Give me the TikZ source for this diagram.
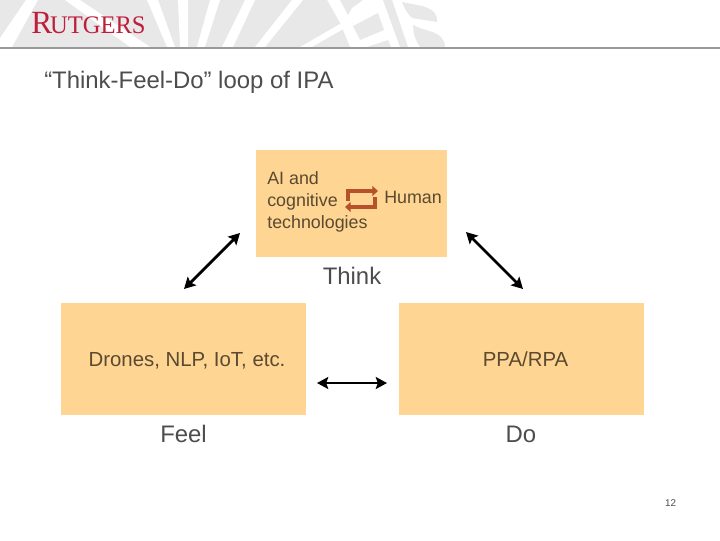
\documentclass[tikz,border=0pt]{standalone}
\usepackage{fontspec}
\setmainfont{Liberation Sans}
\newfontfamily\logofont{Liberation Serif}
\usetikzlibrary{arrows.meta, positioning}
\definecolor{boxfill}{HTML}{FFD593}
\definecolor{textgray}{HTML}{4D4D4D}
\definecolor{boxtext}{HTML}{5A4A30}
\definecolor{bannergray}{HTML}{E8E8E8}
\definecolor{logored}{HTML}{BE1E3C}
\definecolor{looprust}{HTML}{B5522A}
\definecolor{rulegray}{HTML}{999999}
\tikzset{
  panel/.style={fill=boxfill, draw=none, minimum width=245*0.711pt, minimum height=112*0.711pt, inner sep=0pt},
  caption/.style={text=textgray, font=\fontsize{17}{19}\selectfont, inner sep=0pt},
  boxlabel/.style={text=boxtext, font=\fontsize{12.7}{15.6}\selectfont, inner sep=0pt},
  widelabel/.style={text=boxtext, font=\fontsize{14.5}{17}\selectfont, inner sep=0pt},
  twohead/.style={{Stealth[length=8pt,width=8.5pt,inset=1.5pt]}-{Stealth[length=8pt,width=8.5pt,inset=1.5pt]}, line width=2pt, black},
  loopbar/.style={looprust, line width=3pt, -{Stealth[length=4pt,width=7pt,inset=0pt]}}
}
\begin{document}
\begin{tikzpicture}[x=0.025cm, y=-0.025cm]
  \useasboundingbox (0,0) rectangle (720,540);
  \fill[white] (0,0) rectangle (720,540);

  % banner seal
  \fill[bannergray] (0,0) -- (327,0) -- (340,23) -- (350,47) -- (0,47) -- cycle;
  \fill[white] (26,0) -- (38,0) -- (12,47) -- (0,47) -- (0,38) -- cycle; % ring
  \fill[white] (65,0) -- (80,0) -- (150,47) -- (130,47) -- cycle; % rays
  \fill[white] (147,0) -- (158,0) -- (175,47) -- (167,47) -- cycle;
  \fill[white] (178,0) -- (188,0) -- (188,47) -- (180,47) -- cycle;
  \fill[white] (210,0) -- (220,0) -- (205,47) -- (197,47) -- cycle;
  \fill[white] (245,0) -- (255,0) -- (233,47) -- (222,47) -- cycle;
  \fill[white] (292,0) -- (303,0) -- (265,47) -- (255,47) -- cycle;
  \fill[white] (340,24) -- (345,28) -- (312,47) -- (300,47) -- cycle;
  \fill[bannergray] (340,0) -- (363,0) -- (352,8) -- (348,15) -- cycle; % ring letters
  \fill[bannergray] (353,26) -- (378,13) -- (384,30) -- (360,40) -- cycle;
  \fill[bannergray] (367,47) -- (388,40) -- (391,47) -- cycle;
  \fill[bannergray] (383,0) -- (392,0) -- (408,47) -- (400,47) -- cycle;
  \fill[bannergray] (402,2) .. controls (420,6) and (438,6) .. (437,22) -- (412,18) .. controls (408,14) and (405,10) .. (402,2) -- cycle;
  \fill[bannergray] (413,25) .. controls (425,32) and (444,30) .. (445,47) -- (420,47) .. controls (415,40) and (413,32) .. (413,25) -- cycle;

  % banner rule
  \draw[rulegray, line width=0.8pt] (0,48) -- (720,48);

  % logo
  \node[anchor=base west, logored, font=\logofont\fontsize{23}{23}\selectfont, inner sep=0pt, xscale=0.97] (logo) at (31,33) {R\kern-1.5pt\fontsize{18}{18}\selectfont UTGERS};

  % title
  \node[anchor=base west, caption] (title) at (44,88.5) {“Think-Feel-Do” loop of IPA};

  % Think box
  \node[panel, minimum width=191*0.711pt, minimum height=107*0.711pt] (thinkbox) at (351.5,203.5) {};
  \node[boxlabel, anchor=north west, align=left] (ailabel) at (267,171.5) {AI and\\cognitive\\technologies};
  \node[boxlabel, anchor=base west] (humanlabel) at (384,203) {Human};
  \node[caption, anchor=base] (thinklabel) at (352,284) {Think};

  % loop icon
  \coordinate (loopa) at (348,201);
  \coordinate (loopb) at (348,191);
  \coordinate (loopc) at (378,191);
  \coordinate (loopd) at (375,197);
  \coordinate (loope) at (375,207);
  \coordinate (loopf) at (345,207);
  \draw[loopbar] (loopa) -- (loopb) -- (loopc);
  \draw[loopbar] (loopd) -- (loope) -- (loopf);

  % Feel box
  \node[panel] (feelbox) at (183.5,359) {};
  \node[widelabel, anchor=base] (feeltext) at (187,366) {Drones, NLP, IoT, etc.};
  \node[caption, anchor=base] (feellabel) at (183.5,442) {Feel};

  % Do box
  \node[panel] (dobox) at (521.5,359) {};
  \node[widelabel, anchor=base] (dotext) at (525.5,366) {PPA/RPA};
  \node[caption, anchor=base] (dolabel) at (521,442) {Do};

  % arrows
  \coordinate (arrowa) at (184,289);
  \coordinate (arrowb) at (240,233);
  \coordinate (arrowc) at (466,232);
  \coordinate (arrowd) at (523,289);
  \coordinate (arrowe) at (317,383);
  \coordinate (arrowf) at (387,383);
  \draw[twohead] (arrowa) -- (arrowb);
  \draw[twohead] (arrowc) -- (arrowd);
  \draw[twohead] (arrowe) -- (arrowf);

  % page number
  \node[anchor=base, text=textgray, font=\fontsize{7}{8}\selectfont, inner sep=0pt] (pagenum) at (670.5,506) {12};
\end{tikzpicture}
\end{document}
